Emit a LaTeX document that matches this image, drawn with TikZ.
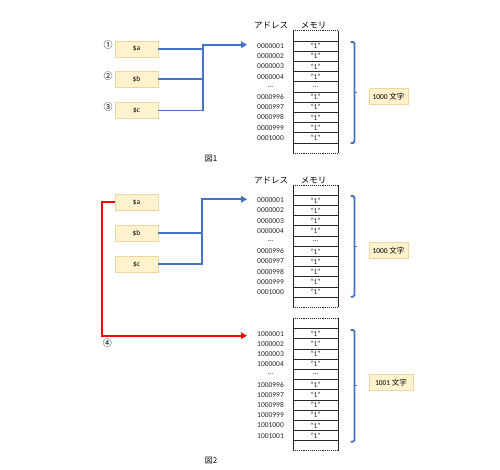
\documentclass[tikz,border=0pt]{standalone}
\usepackage{fontspec}
\setmainfont{Carlito}
\newfontfamily\jp{Noto Sans CJK JP}
\usetikzlibrary{arrows.meta}
\definecolor{lineblue}{RGB}{68,114,196}
\definecolor{linered}{RGB}{240,10,10}
\definecolor{varfill}{RGB}{255,242,204}
\definecolor{vardraw}{RGB}{238,214,160}

\begin{document}
\begin{tikzpicture}[x=1pt, y=-1pt,
    var/.style={rectangle, draw=vardraw, fill=varfill, minimum width=43pt, minimum height=16pt, inner sep=0pt, font=\fontsize{7.5}{8}\selectfont},
    lenbox/.style={rectangle, draw=vardraw, fill=varfill, minimum height=16pt, inner sep=3.5pt, font=\fontsize{7.5}{8}\selectfont},
    num/.style={inner sep=0pt, font=\jp\fontsize{9}{10}\selectfont},
    head/.style={inner sep=0pt, font=\jp\fontsize{8.5}{9}\selectfont},
    adr/.style={inner sep=0pt, text=black!85, font=\fontsize{7.5}{8}\selectfont},
    cell/.style={inner sep=0pt, text=black!85, font=\fontsize{7.5}{8}\selectfont},
    title/.style={inner sep=0pt, font=\jp\fontsize{8}{9}\selectfont},
    memline/.style={draw=black!85, line width=0.7pt},
    memedge/.style={draw=black!85, line width=0.9pt, densely dotted},
    blueline/.style={draw=lineblue, line width=1.8pt},
    bluearrow/.style={blueline, -{Triangle[width=6.5pt,length=6pt]}},
    redarrow/.style={draw=linered, line width=1.8pt, -{Triangle[width=6.5pt,length=6pt]}},
    brace/.style={draw=lineblue, line width=1.8pt, rounded corners=1.5pt}
    ]
    \useasboundingbox (0,0) rectangle (500,469);

    % memory columns: top / number of cells
    \foreach \ya/\n in {30.7/12, 185/12, 318.3/13}{
      \draw[memline] (293,\ya) -- (293,{\ya+\n*10.2});
      \draw[memline] (338,\ya) -- (338,{\ya+\n*10.2});
      \draw[memedge] (293,\ya) -- (338,\ya);
      \draw[memedge] (293,{\ya+\n*10.2}) -- (338,{\ya+\n*10.2});
      \pgfmathtruncatemacro{\m}{\n-1}
      \foreach \k in {1,...,\m}
        \draw[memline] (293,{\ya+\k*10.2}) -- (338,{\ya+\k*10.2});
    }

    % 図1
    \node[head] (hadr1) at (271,25) {アドレス};
    \node[head] (hmem1) at (313.5,25) {メモリ};
    \foreach \a/\v [count=\i] in {0000001/“1”,0000002/“1”,0000003/“1”,0000004/“1”,…/…,0000996/“1”,0000997/“1”,0000998/“1”,0000999/“1”,0001000/“1”}{
      \node[adr] (adr1-\i) at (270.5,{30.7+(\i+0.5)*10.2}) {\a};
      \node[cell] (mem1-\i) at (315.5,{30.7+(\i+0.5)*10.2}) {\v};
    }
    \node[var] (va1) at (136.5,48.7) {\$a};
    \node[var] (vb1) at (136.5,79.3) {\$b};
    \node[var] (vc1) at (136.5,110.5) {\$c};
    \node[num] (n1) at (108,45.5) {①};
    \node[num] (n2) at (108,76.5) {②};
    \node[num] (n3) at (108,107.5) {③};
    \coordinate (j1) at (202.7,44.7);
    \coordinate (in1) at (247,44.7);
    \draw[bluearrow] (vc1.east) -| (j1) -- (in1);
    \draw[blueline] (va1.east) -- (va1.east -| j1);
    \draw[blueline] (vb1.east) -- (vb1.east -| j1);
    \node[lenbox] (len1) at (388.5,96.5) {1000 {\jp 文字}};
    \node[title] (fig1) at (211,158.3) {図1};

    % 図2
    \node[head] (hadr2) at (271,180) {アドレス};
    \node[head] (hmem2) at (313.5,180) {メモリ};
    \foreach \a/\v [count=\i] in {0000001/“1”,0000002/“1”,0000003/“1”,0000004/“1”,…/…,0000996/“1”,0000997/“1”,0000998/“1”,0000999/“1”,0001000/“1”}{
      \node[adr] (adr2-\i) at (270.5,{185+(\i+0.5)*10.2}) {\a};
      \node[cell] (mem2-\i) at (315.5,{185+(\i+0.5)*10.2}) {\v};
    }
    \foreach \a/\v [count=\i] in {1000001/“1”,1000002/“1”,1000003/“1”,1000004/“1”,…/…,1000996/“1”,1000997/“1”,1000998/“1”,1000999/“1”,1001000/“1”,1001001/“1”}{
      \node[adr] (adr3-\i) at (270.5,{318.3+(\i+0.5)*10.2}) {\a};
      \node[cell] (mem3-\i) at (315.5,{318.3+(\i+0.5)*10.2}) {\v};
    }
    \node[var] (va2) at (136.5,202.3) {\$a};
    \node[var] (vb2) at (136.5,233.2) {\$b};
    \node[var] (vc2) at (136.5,264.2) {\$c};
    \coordinate (j2) at (202.3,199.3);
    \coordinate (in2) at (247,199.3);
    \coordinate (k2) at (102.3,202.3);
    \coordinate (in3) at (247,335.7);
    \draw[bluearrow] (vc2.east) -| (j2) -- (in2);
    \draw[blueline] (vb2.east) -- (vb2.east -| j2);
    \draw[redarrow] (va2.west) -- (k2) |- (in3);
    \node[num] (n4) at (107.3,343.3) {④};
    \node[lenbox] (len2) at (388.5,250.5) {1000 {\jp 文字}};
    \node[lenbox, minimum width=44pt] (len3) at (391,382.3) {1001 {\jp 文字}};
    \node[title] (fig2) at (211,460.7) {図2};

    % braces
    \foreach \ya/\yb in {42/143, 196/296.7, 330/441.7}{
      \draw[brace] (350.5,\ya) -- (354.5,\ya) -- (354.5,\yb) -- (350.5,\yb);
      \draw[draw=lineblue, line width=1.2pt] (354.5,{(\ya+\yb)/2}) -- ++(2,0);
    }
\end{tikzpicture}
\end{document}
